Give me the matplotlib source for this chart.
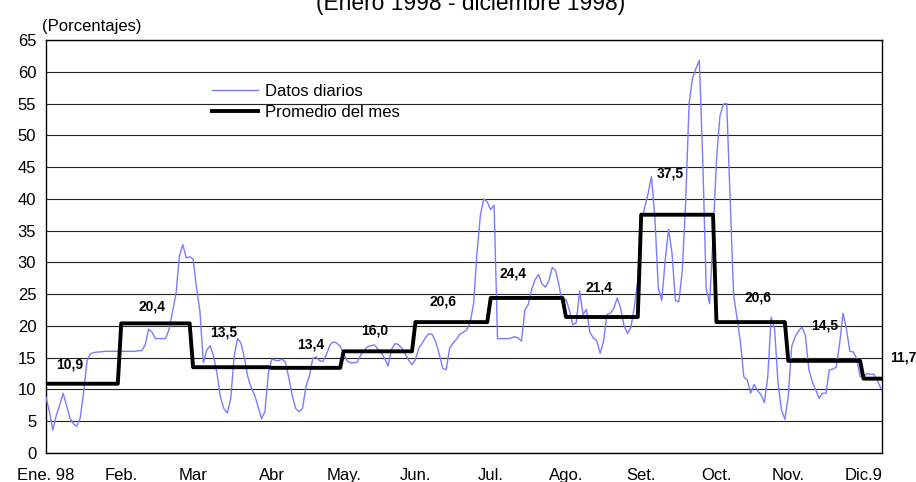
import numpy as np
import matplotlib
matplotlib.use("Agg")
import matplotlib.pyplot as plt

# business days per month (Dec only partial)
months = ["Ene. 98", "Feb.", "Mar", "Abr", "May.", "Jun.", "Jul.", "Ago.",
          "Set.", "Oct.", "Nov.", "Dic.9"]
month_lengths = [22, 21, 23, 21, 21, 22, 22, 22, 22, 21, 22, 6]
month_means = [10.9, 20.4, 13.5, 13.4, 16.0, 20.6, 24.4, 21.4, 37.5, 20.6, 14.5, 11.7]

daily = [
    # Ene
    8.8, 6.5, 3.6, 5.9, 7.5, 9.4, 7.5, 5.5, 4.6, 4.2, 5.5, 9.5, 14.5, 15.6,
    15.8, 15.9, 15.9, 16.0, 16.0, 16.0, 16.0, 16.0,
    # Feb
    16.0, 16.0, 16.0, 16.0, 16.0, 16.1, 16.1, 17.0, 19.5, 19.0, 18.0, 18.0,
    18.0, 18.0, 19.5, 22.3, 25.0, 31.0, 32.8, 30.7, 30.9,
    # Mar
    30.5, 26.0, 22.3, 14.2, 16.2, 16.9, 15.2, 12.5, 8.8, 7.0, 6.3, 8.5, 15.2,
    18.0, 17.3, 15.0, 12.0, 10.3, 9.1, 7.3, 5.4, 6.5, 12.5,
    # Abr
    14.8, 14.6, 14.5, 14.8, 14.3, 11.8, 9.0, 7.0, 6.5, 7.0, 10.5, 12.1, 14.9,
    15.1, 14.5, 14.4, 15.5, 17.0, 17.5, 17.3, 16.8,
    # May
    15.7, 14.5, 14.2, 14.2, 14.3, 15.4, 16.2, 16.7, 16.9, 17.0, 16.4, 15.8,
    14.9, 13.7, 16.3, 17.2, 17.1, 16.5, 15.6, 14.6, 13.9,
    # Jun
    14.7, 16.5, 17.3, 18.2, 18.8, 18.6, 17.4, 15.5, 13.3, 13.1, 16.5, 17.3,
    17.9, 18.7, 19.0, 19.4, 20.5, 23.5, 31.5, 37.5, 40.0, 39.5,
    # Jul
    38.3, 39.0, 18.0, 18.0, 18.0, 18.0, 18.1, 18.3, 18.1, 17.6, 22.5, 23.4,
    25.8, 27.3, 28.1, 26.6, 26.1, 27.1, 29.2, 28.7, 26.3, 23.5,
    # Ago
    24.2, 22.5, 20.2, 20.5, 25.5, 21.8, 22.6, 19.0, 18.1, 17.7, 15.7, 17.6,
    21.8, 22.0, 22.8, 24.4, 22.7, 20.0, 18.8, 19.8, 23.0, 27.2,
    # Set
    36.4, 38.6, 40.8, 43.5, 37.0, 26.0, 24.0, 30.2, 35.2, 31.5, 24.0, 23.8,
    28.6, 39.5, 55.0, 59.0, 60.5, 61.8, 46.0, 26.0, 23.5, 34.0,
    # Oct
    46.0, 53.0, 54.9, 55.0, 40.0, 25.0, 21.2, 17.5, 12.0, 11.5, 9.4, 10.8,
    9.8, 9.2, 7.9, 12.0, 21.4, 19.5, 11.0, 6.8, 5.3,
    # Nov
    9.0, 16.8, 18.3, 19.2, 19.8, 18.5, 13.2, 11.2, 10.0, 8.6, 9.4, 9.4, 13.1,
    13.2, 13.5, 17.2, 22.0, 19.5, 16.0, 15.9, 14.8, 12.0,
    # Dic
    12.0, 12.5, 12.4, 12.4, 11.5, 10.2,
]

# where the bold month labels sit (day index, value)
label_pos = [(7, 13.9), (31, 23.0), (52, 18.9), (77.5, 17.0), (96, 19.2),
             (116, 23.8), (136.5, 28.2), (161.7, 26.0), (182.5, 44.0),
             (208, 24.4), (227.5, 20.1), (250.6, 15.1)]

plt.rcParams['font.family'] = ['Liberation Sans', 'DejaVu Sans']

starts = np.concatenate([[0], np.cumsum(month_lengths)[:-1]])
x = np.arange(len(daily))
monthly = np.repeat(month_means, month_lengths)

fig = plt.figure(figsize=(9.16, 4.82), dpi=100)
ax = fig.add_axes([0.0502, 0.0602, 0.9127, 0.8568])

ax.plot(x, daily, color='#7b7bff', linewidth=1.0, label='Datos diarios', zorder=3)
ax.plot(x, monthly, color='black', linewidth=2.8, label='Promedio del mes', zorder=4)

for (lx, ly), val in zip(label_pos, month_means):
    ax.text(lx, ly, f"{val:.1f}".replace('.', ','), fontsize=10, fontweight='bold',
            ha='center', va='center', clip_on=False, zorder=5)

ax.set_xlim(0, len(daily) - 0.6)
ax.set_ylim(0, 65)
ax.set_yticks(np.arange(0, 66, 5))
ax.set_xticks(starts)
ax.set_xticklabels(months)
ax.yaxis.grid(True, color='#222222', linewidth=0.8)
ax.set_axisbelow(True)
ax.tick_params(axis='both', length=0, labelsize=12)
ax.tick_params(axis='x', pad=11)
ax.tick_params(axis='y', pad=7)
for s in ax.spines.values():
    s.set_linewidth(1.0)
    s.set_color('black')

ax.legend(loc='upper left', bbox_to_anchor=(0.191, 0.91), frameon=False,
          fontsize=12, handlelength=2.75, handletextpad=0.42,
          labelspacing=0.38, borderaxespad=0)

fig.text(0.046, 0.944, "(Porcentajes)", fontsize=12, ha='left', va='center')
fig.text(0.514, 1 - 10 / 482, "(Enero 1998 - diciembre 1998)", fontsize=16.4,
         ha='center', va='baseline')

fig.savefig("out.png", dpi=100)
